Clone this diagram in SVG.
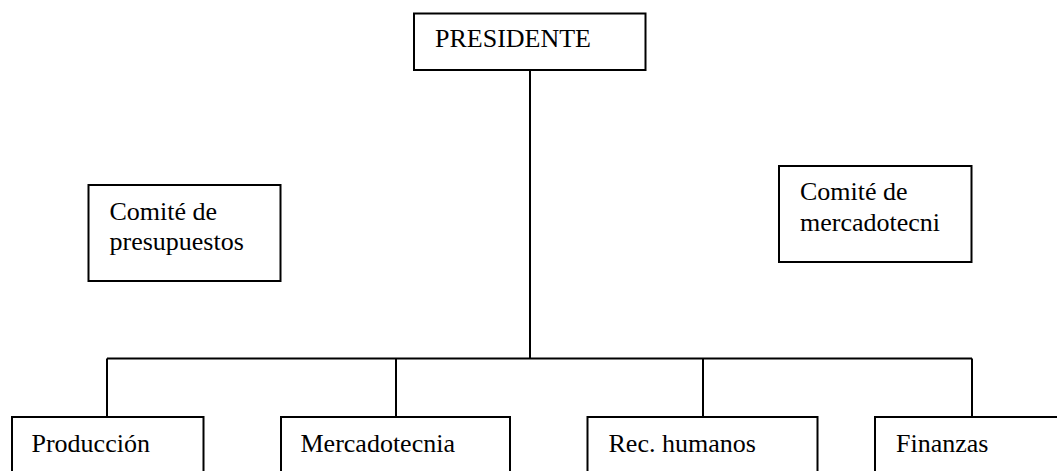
<svg xmlns="http://www.w3.org/2000/svg" width="1057" height="471" viewBox="0 0 1057 471">
<style>
.box{fill:#fff;stroke:#000;stroke-width:2}
.lbl{font-family:'Liberation Serif','DejaVu Serif','Times New Roman',serif;font-size:26px;fill:#000}
.conn{fill:none;stroke:#000;stroke-width:2}
</style>
<rect width="1057" height="471" fill="#fff"/>
<g id="connectors">
<line class="conn" x1="530" y1="70" x2="530" y2="358.5"/>
<line class="conn" x1="107" y1="358.5" x2="972" y2="358.5"/>
<line class="conn" x1="107" y1="358.5" x2="107" y2="417"/>
<line class="conn" x1="396" y1="358.5" x2="396" y2="417"/>
<line class="conn" x1="703" y1="358.5" x2="703" y2="417"/>
<line class="conn" x1="972" y1="358.5" x2="972" y2="417"/>
</g>
<g id="presidente">
<rect class="box" x="414" y="13.5" width="231.5" height="56.5"/>
<text class="lbl" x="435" y="47">PRESIDENTE</text>
</g>
<g id="comite-presupuestos">
<rect class="box" x="88.5" y="185" width="192" height="96"/>
<text class="lbl" x="109.5" y="220">Comité de</text>
<text class="lbl" x="109.5" y="250">presupuestos</text>
</g>
<g id="comite-mercadotecnia">
<rect class="box" x="779" y="166" width="192.5" height="96"/>
<text class="lbl" x="800" y="200">Comité de</text>
<text class="lbl" x="800" y="231">mercadotecni</text>
</g>
<g id="produccion">
<rect class="box" x="12" y="417" width="191.5" height="70"/>
<text class="lbl" x="31.5" y="451.5">Producción</text>
</g>
<g id="mercadotecnia">
<rect class="box" x="281" y="417" width="229" height="70"/>
<text class="lbl" x="300.5" y="451.5">Mercadotecnia</text>
</g>
<g id="rec-humanos">
<rect class="box" x="587.5" y="417" width="230" height="70"/>
<text class="lbl" x="608.5" y="451.5">Rec. humanos</text>
</g>
<g id="finanzas">
<rect class="box" x="875" y="417" width="200" height="70"/>
<text class="lbl" x="896" y="451.5">Finanzas</text>
</g>
</svg>
